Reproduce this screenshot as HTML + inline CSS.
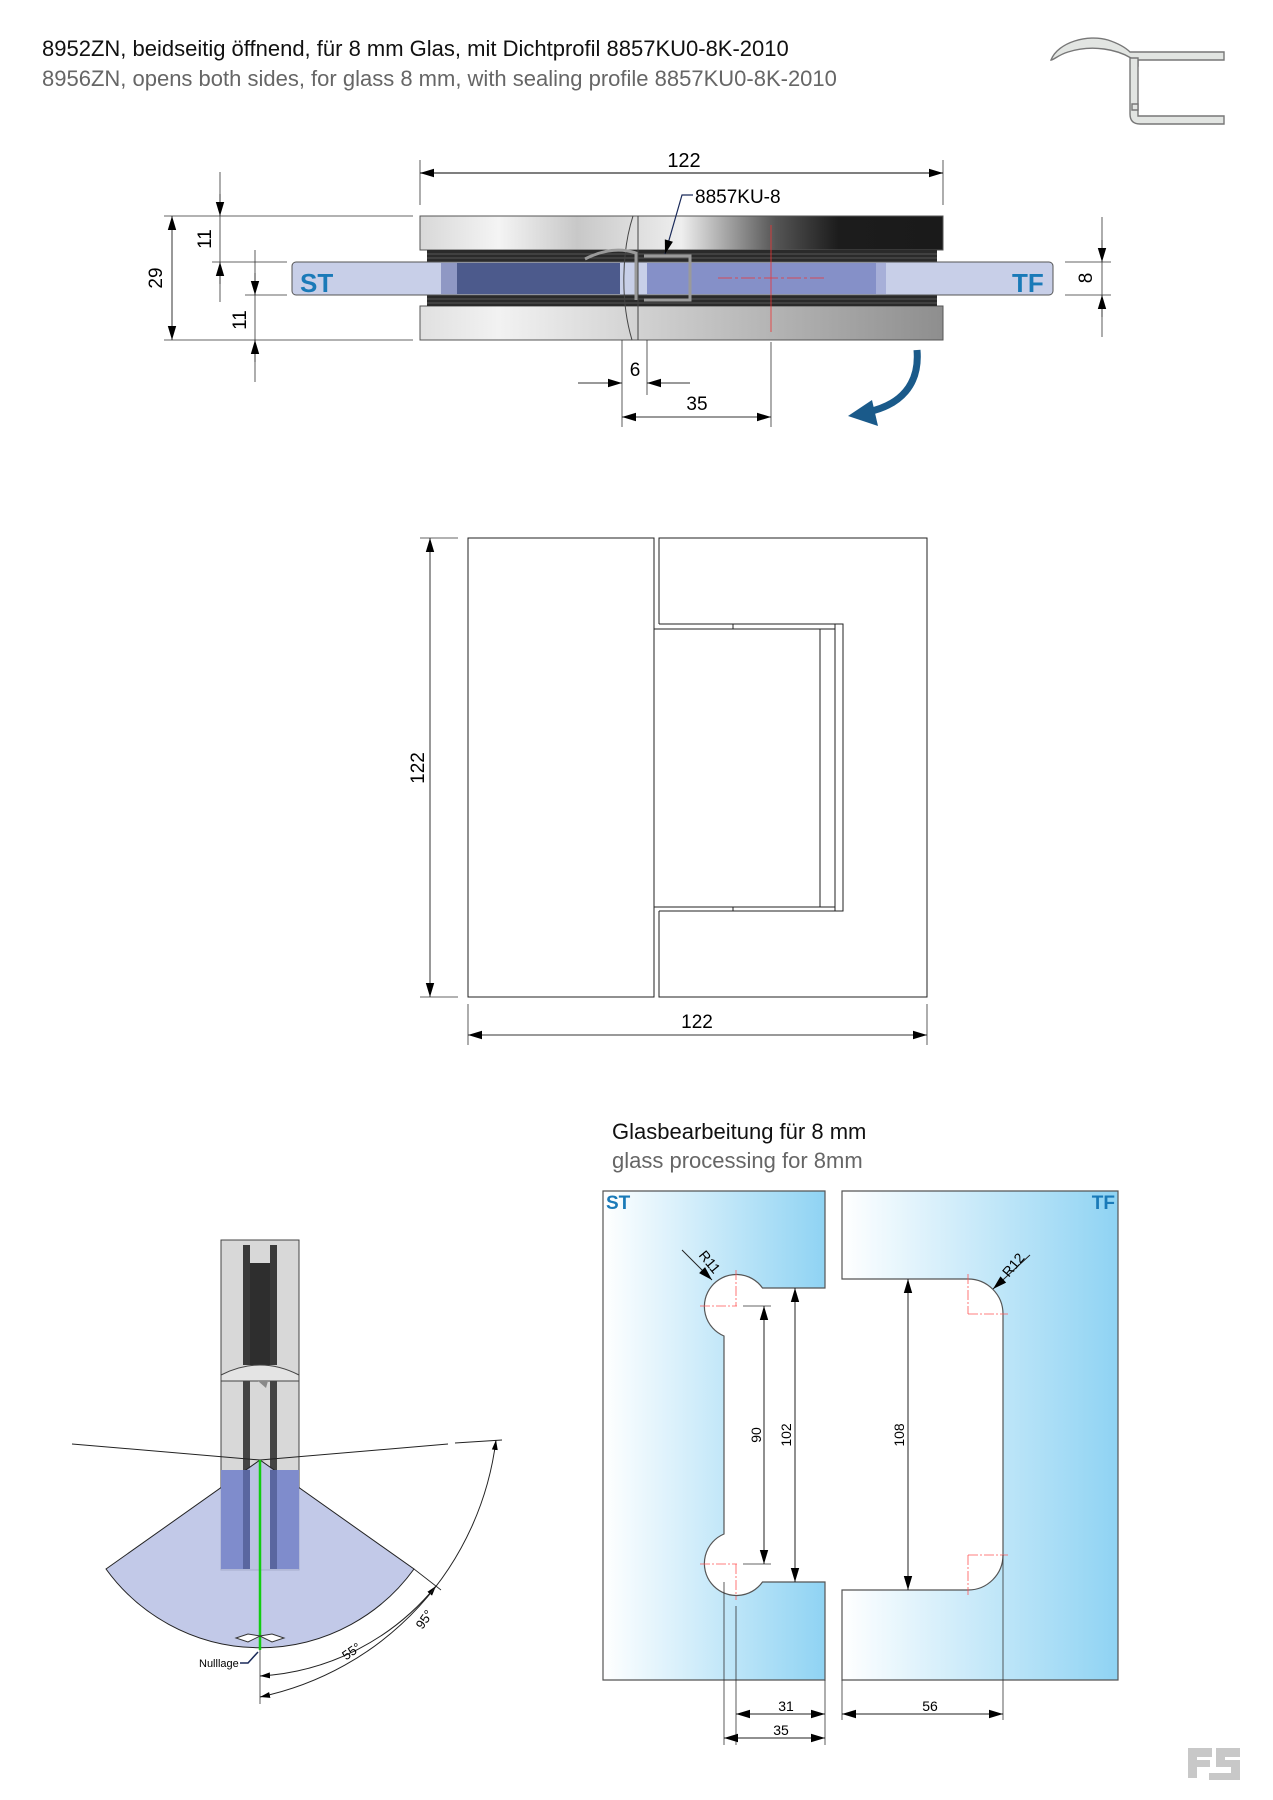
<!DOCTYPE html>
<html><head><meta charset="utf-8"><style>
html,body{margin:0;padding:0;background:#fff;}
svg{display:block;font-family:"Liberation Sans",sans-serif;}
</style></head><body>
<svg width="1273" height="1800" viewBox="0 0 1273 1800" xmlns="http://www.w3.org/2000/svg">
<defs>
<linearGradient id="gb" x1="0" x2="1" y1="0" y2="0"><stop offset="0" stop-color="#ffffff"/><stop offset="1" stop-color="#8fd3f3"/></linearGradient>
<linearGradient id="pl" x1="0" x2="1"><stop offset="0" stop-color="#d8d8d8"/><stop offset="0.15" stop-color="#f4f4f4"/><stop offset="0.3" stop-color="#c8c8c8"/><stop offset="0.5" stop-color="#eeeeee"/><stop offset="0.68" stop-color="#555"/><stop offset="0.8" stop-color="#1c1c1c"/><stop offset="1" stop-color="#1a1a1a"/></linearGradient>
<linearGradient id="pl2" x1="0" x2="1"><stop offset="0" stop-color="#e0e0e0"/><stop offset="0.15" stop-color="#f2f2f2"/><stop offset="0.5" stop-color="#c8c8c8"/><stop offset="1" stop-color="#8e8e8e"/></linearGradient>
<marker id="a" viewBox="0 0 10 10" refX="10" refY="5" markerWidth="10" markerHeight="10" markerUnits="userSpaceOnUse" orient="auto-start-reverse"><path d="M0,2 L10,5 L0,8 Z" fill="#000"/></marker>
<marker id="A" viewBox="0 0 10 10" refX="10" refY="5" markerWidth="18" markerHeight="14" markerUnits="userSpaceOnUse" orient="auto-start-reverse"><path d="M0,2 L10,5 L0,8 Z" fill="#000"/></marker>
</defs>

<text x="42" y="56" font-size="22" fill="#111">8952ZN, beidseitig öffnend, für 8 mm Glas, mit Dichtprofil 8857KU0-8K-2010</text>
<text x="42" y="86" font-size="22" fill="#666">8956ZN, opens both sides, for glass 8 mm, with sealing profile 8857KU0-8K-2010</text>

<g transform="translate(-12,0)" fill="#e2e5e2" stroke="#777" stroke-width="1.4">
<path d="M1063,60 C1070,42 1100,34 1120,40 C1132,44 1138,48 1142,52 L1236,52 L1236,60 L1150,60 L1150,66 L1143,66 L1143,58 C1130,50 1105,44 1080,52 C1070,55 1066,60 1063,60 Z"/>
<path d="M1142,58 L1150,58 L1150,116 L1236,116 L1236,124 L1152,124 Q1142,124 1142,114 Z"/>
<path d="M1150,110 L1144,110 L1144,104 L1150,104 Z"/>
</g>

<line x1="420" y1="160" x2="420" y2="205" stroke="#333" stroke-width="0.8"/>
<line x1="943" y1="160" x2="943" y2="205" stroke="#333" stroke-width="0.8"/>
<line x1="420" y1="173" x2="943" y2="173" stroke="#333" stroke-width="1.2" marker-start="url(#A)" marker-end="url(#A)"/>
<text x="684" y="167" font-size="20" text-anchor="middle">122</text>

<rect x="420" y="216" width="523" height="34" fill="url(#pl)" stroke="#555"/>
<rect x="420" y="306" width="523" height="34" fill="url(#pl2)" stroke="#555"/>
<rect x="427" y="250" width="510" height="12" fill="#2a2a2a"/>
<rect x="427" y="295" width="510" height="11" fill="#2a2a2a"/>
<g stroke="#666" stroke-width="0.7"><line x1="427" y1="254" x2="937" y2="254"/><line x1="427" y1="258" x2="937" y2="258"/><line x1="427" y1="299" x2="937" y2="299"/><line x1="427" y1="303" x2="937" y2="303"/></g>
<rect x="292" y="262" width="761" height="33" rx="4" fill="#c8cfe8" stroke="#555"/>
<rect x="457" y="263" width="163" height="31" fill="#4c5a8c"/>
<rect x="441" y="263" width="16" height="31" fill="#8f98c4"/>
<rect x="647" y="263" width="229" height="31" fill="#8590c8"/>
<rect x="876" y="263" width="10" height="31" fill="#a7afd8"/>
<path d="M633,216 C622,250 620,300 632,340" fill="none" stroke="#444" stroke-width="1"/>
<line x1="638" y1="216" x2="638" y2="340" stroke="#444" stroke-width="1"/>
<path d="M585,259 Q612,245 636,253 L636,300 M644,256 L690,256 L690,300 L644,300" fill="none" stroke="#9a9a9a" stroke-width="3"/>
<text x="300" y="292" font-size="26" font-weight="bold" fill="#1a7ab8">ST</text>
<text x="1012" y="292" font-size="26" font-weight="bold" fill="#1a7ab8">TF</text>
<line x1="771" y1="225" x2="771" y2="332" stroke="#e33" stroke-width="0.8"/>
<line x1="718" y1="278" x2="826" y2="278" stroke="#e33" stroke-width="0.8" stroke-dasharray="14,3,3,3"/>
<line x1="771" y1="342" x2="771" y2="427" stroke="#333" stroke-width="0.8"/>
<text x="695" y="203" font-size="19">8857KU-8</text>
<path d="M693,195 L682,195 L665,254" fill="none" stroke="#1a2a5a" stroke-width="1.2" marker-end="url(#A)"/>

<g stroke="#333" stroke-width="0.8">
<line x1="164" y1="216" x2="413" y2="216"/><line x1="164" y1="340" x2="413" y2="340"/>
<line x1="212" y1="262" x2="287" y2="262"/><line x1="245" y1="295" x2="287" y2="295"/>
<line x1="220" y1="172" x2="220" y2="302"/><line x1="255" y1="250" x2="255" y2="382"/>
<line x1="1102" y1="217" x2="1102" y2="337"/><line x1="1065" y1="262" x2="1111" y2="262"/><line x1="1065" y1="295" x2="1111" y2="295"/>
</g>
<line x1="172" y1="216" x2="172" y2="340" stroke="#333" stroke-width="1" marker-start="url(#A)" marker-end="url(#A)"/>
<line x1="220" y1="194" x2="220" y2="216" stroke="#333" marker-end="url(#A)"/>
<line x1="220" y1="284" x2="220" y2="262" stroke="#333" marker-end="url(#A)"/>
<line x1="255" y1="273" x2="255" y2="295" stroke="#333" marker-end="url(#A)"/>
<line x1="255" y1="362" x2="255" y2="340" stroke="#333" marker-end="url(#A)"/>
<line x1="1102" y1="240" x2="1102" y2="262" stroke="#333" marker-end="url(#A)"/>
<line x1="1102" y1="317" x2="1102" y2="295" stroke="#333" marker-end="url(#A)"/>
<text font-size="19" transform="translate(162,278) rotate(-90)" text-anchor="middle">29</text>
<text font-size="19" transform="translate(211,239) rotate(-90)" text-anchor="middle">11</text>
<text font-size="19" transform="translate(246,320) rotate(-90)" text-anchor="middle">11</text>
<text font-size="19" transform="translate(1092,278) rotate(-90)" text-anchor="middle">8</text>

<line x1="622" y1="340" x2="622" y2="427" stroke="#333" stroke-width="0.8"/>
<line x1="647" y1="340" x2="647" y2="395" stroke="#333" stroke-width="0.8"/>
<line x1="578" y1="383" x2="622" y2="383" stroke="#333" marker-end="url(#A)"/>
<line x1="690" y1="383" x2="647" y2="383" stroke="#333" marker-end="url(#A)"/>
<text x="635" y="376" font-size="19" text-anchor="middle">6</text>
<line x1="622" y1="417" x2="771" y2="417" stroke="#333" marker-start="url(#A)" marker-end="url(#A)"/>
<text x="697" y="410" font-size="19" text-anchor="middle">35</text>
<path d="M917,350 C920,385 900,405 868,412" fill="none" stroke="#1a5a8a" stroke-width="7"/>
<path d="M848,416 L872,400 L878,426 Z" fill="#1a5a8a"/>

<g fill="none" stroke="#222" stroke-width="1">
<rect x="468" y="538" width="186" height="459"/>
<path d="M659,624 V538 H927 V997 H659 V911"/>
<path d="M659,624 H843 V911 H659"/>
<rect x="654" y="629" width="181" height="278"/>
<line x1="733" y1="624" x2="733" y2="629"/><line x1="733" y1="907" x2="733" y2="911"/>
<line x1="820" y1="629" x2="820" y2="907"/><line x1="835" y1="624" x2="835" y2="911"/>
</g>
<g stroke="#333" stroke-width="0.8"><line x1="420" y1="538" x2="458" y2="538"/><line x1="420" y1="997" x2="458" y2="997"/><line x1="468" y1="1004" x2="468" y2="1045"/><line x1="927" y1="1004" x2="927" y2="1045"/></g>
<line x1="430" y1="538" x2="430" y2="997" stroke="#333" marker-start="url(#A)" marker-end="url(#A)"/>
<text font-size="19" transform="translate(424,768) rotate(-90)" text-anchor="middle">122</text>
<line x1="468" y1="1035" x2="927" y2="1035" stroke="#333" marker-start="url(#A)" marker-end="url(#A)"/>
<text x="697" y="1028" font-size="19" text-anchor="middle">122</text>

<rect x="221" y="1240" width="78" height="330" fill="#d8d8d8" stroke="#444"/>
<rect x="243" y="1245" width="7" height="120" fill="#3a3a3a"/>
<rect x="270" y="1245" width="7" height="120" fill="#3a3a3a"/>
<rect x="250" y="1263" width="20" height="102" fill="#2e2e2e"/>
<path d="M221,1375 Q260,1355 299,1375 L299,1381 L221,1381 Z" fill="#e4e4e4" stroke="#444"/>
<path d="M258,1381 L268,1381 L266,1388 Z" fill="#888"/>
<rect x="243" y="1381" width="7" height="165" fill="#444"/>
<rect x="270" y="1381" width="7" height="165" fill="#444"/>
<path d="M106,1569 L260,1460 L414,1569 A190 190 0 0 1 106,1569 Z" fill="#b7c0e4" fill-opacity="0.85" stroke="#222"/>
<rect x="221" y="1470" width="22" height="99" fill="#7f8ccc"/>
<rect x="277" y="1470" width="22" height="99" fill="#7f8ccc"/>
<rect x="243" y="1470" width="7" height="99" fill="#5a66a0"/>
<rect x="270" y="1470" width="7" height="99" fill="#5a66a0"/>
<line x1="72" y1="1444" x2="260" y2="1460" stroke="#222"/>
<line x1="260" y1="1460" x2="448" y2="1444" stroke="#222"/>
<line x1="455" y1="1443" x2="502" y2="1440" stroke="#222"/>
<line x1="260" y1="1460" x2="260" y2="1650" stroke="#1c1" stroke-width="2.5"/>
<path d="M236,1638 L248,1634 L260,1636 L272,1634 L284,1638 L272,1642 L260,1636 L248,1642 Z" fill="#fff" stroke="#333"/>
<line x1="260" y1="1650" x2="260" y2="1704" stroke="#333" stroke-width="0.8"/>
<path d="M260,1676 A245 245 0 0 0 436,1586" fill="none" stroke="#222" marker-start="url(#a)" marker-end="url(#a)"/>
<path d="M260,1697 A300 300 0 0 0 496,1440" fill="none" stroke="#222" marker-start="url(#a)" marker-end="url(#a)"/>
<line x1="414" y1="1569" x2="441" y2="1590" stroke="#222" stroke-width="0.8"/>
<text font-size="13" transform="translate(354,1655) rotate(-35)" text-anchor="middle">55°</text>
<text font-size="13" transform="translate(428,1622) rotate(-55)" text-anchor="middle">95°</text>
<text x="199" y="1667" font-size="11">Nulllage</text>
<path d="M240,1663 L248,1663 L258,1652" fill="none" stroke="#1a2a5a" stroke-width="1.5"/>

<text x="612" y="1139" font-size="22" fill="#111">Glasbearbeitung für 8 mm</text>
<text x="612" y="1168" font-size="22" fill="#666">glass processing for 8mm</text>
<path d="M603,1191 H825 V1288 H762.5 A32 32 0 1 0 724 1336 V1534 A32 32 0 1 0 762.5 1582 H825 V1680 H603 Z" fill="url(#gb)" stroke="#555" stroke-width="1.2"/>
<path d="M842,1191 H1118 V1680 H842 V1590 H968 A35 35 0 0 0 1003 1555 V1314 A35 35 0 0 0 968 1279 H842 Z" fill="url(#gb)" stroke="#555" stroke-width="1.2"/>
<text x="606" y="1209" font-size="19" font-weight="bold" fill="#1a7ab8">ST</text>
<text x="1115" y="1209" font-size="19" font-weight="bold" fill="#1a7ab8" text-anchor="end">TF</text>
<g stroke="#f55" stroke-width="0.8" stroke-dasharray="10,2,2,2">
<line x1="736" y1="1270" x2="736" y2="1306"/><line x1="700" y1="1306" x2="737" y2="1306"/>
<line x1="736" y1="1564" x2="736" y2="1600"/><line x1="700" y1="1564" x2="737" y2="1564"/>
<line x1="968" y1="1274" x2="968" y2="1314"/><line x1="968" y1="1314" x2="1008" y2="1314"/>
<line x1="968" y1="1555" x2="968" y2="1595"/><line x1="968" y1="1555" x2="1008" y2="1555"/>
</g>
<g stroke="#333" stroke-width="0.8">
<line x1="743" y1="1306" x2="771" y2="1306"/><line x1="743" y1="1564" x2="771" y2="1564"/>
<line x1="736" y1="1606" x2="736" y2="1745"/><line x1="724" y1="1582" x2="724" y2="1745"/>
<line x1="825" y1="1680" x2="825" y2="1745"/><line x1="842" y1="1680" x2="842" y2="1720"/><line x1="1003" y1="1555" x2="1003" y2="1720"/>
</g>
<line x1="764" y1="1306" x2="764" y2="1564" stroke="#222" marker-start="url(#A)" marker-end="url(#A)"/>
<line x1="795" y1="1288" x2="795" y2="1582" stroke="#222" marker-start="url(#A)" marker-end="url(#A)"/>
<line x1="908" y1="1279" x2="908" y2="1590" stroke="#222" marker-start="url(#A)" marker-end="url(#A)"/>
<text font-size="14" transform="translate(761,1435) rotate(-90)" text-anchor="middle">90</text>
<text font-size="14" transform="translate(791,1435) rotate(-90)" text-anchor="middle">102</text>
<text font-size="14" transform="translate(904,1435) rotate(-90)" text-anchor="middle">108</text>
<line x1="682" y1="1250" x2="712" y2="1280" stroke="#222" marker-end="url(#A)"/>
<text font-size="14" transform="translate(706,1265) rotate(50)" text-anchor="middle">R11</text>
<line x1="1030" y1="1255" x2="993" y2="1289" stroke="#222" marker-end="url(#A)"/>
<text font-size="14" transform="translate(1017,1268) rotate(-50)" text-anchor="middle">R12</text>
<line x1="736" y1="1714" x2="825" y2="1714" stroke="#222" marker-start="url(#A)" marker-end="url(#A)"/>
<text x="786" y="1711" font-size="14" text-anchor="middle">31</text>
<line x1="724" y1="1738" x2="825" y2="1738" stroke="#222" marker-start="url(#A)" marker-end="url(#A)"/>
<text x="781" y="1735" font-size="14" text-anchor="middle">35</text>
<line x1="842" y1="1714" x2="1003" y2="1714" stroke="#222" marker-start="url(#A)" marker-end="url(#A)"/>
<text x="930" y="1711" font-size="14" text-anchor="middle">56</text>

<g transform="translate(-11,0)" fill="#c8c8c8"><rect x="1199" y="1748" width="24" height="9"/><rect x="1199" y="1748" width="9" height="30"/><rect x="1199" y="1760" width="22" height="7"/><rect x="1227" y="1748" width="24" height="9"/><rect x="1227" y="1748" width="9" height="18"/><rect x="1227" y="1760" width="24" height="7"/><rect x="1242" y="1760" width="9" height="20"/><rect x="1220" y="1773" width="31" height="7"/></g>
</svg>
</body></html>
